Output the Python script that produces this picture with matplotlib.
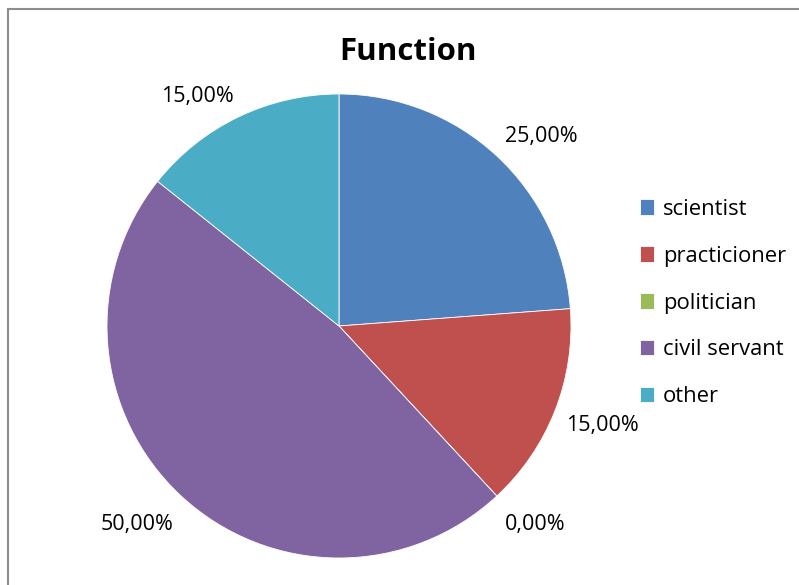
import numpy as np
import matplotlib.pyplot as plt
from matplotlib.patches import Rectangle

categories = ["scientist", "practicioner", "politician", "civil servant", "other"]
values = [25.0, 15.0, 0.0, 50.0, 15.0]
colors = ["#4F81BD", "#C0504D", "#9BBB59", "#8064A2", "#4BACC6"]
title = "Function"

plt.rcParams['font.family'] = ['Open Sans', 'DejaVu Sans']

fig = plt.figure(figsize=(7.99, 5.85), dpi=100)

# outer chart frame (only left and top edges fall inside the image)
fig.patches.append(Rectangle((8 / 799, -0.1), 1.2, (585 - 9) / 585 + 0.1,
                             transform=fig.transFigure, fill=False,
                             edgecolor="#8c8c8c", linewidth=1.5))

cx, cy, r = 339, 326, 232
ax = fig.add_axes([(cx - r) / 799, (585 - cy - r) / 585, 2 * r / 799, 2 * r / 585])

total = sum(values)


def fmt(p):
    v = p * total / 100
    return ("%.2f%%" % v).replace(".", ",")


wedges, texts, autotexts = ax.pie(values, colors=colors, startangle=90,
                                  counterclock=False, autopct=fmt,
                                  wedgeprops=dict(linewidth=0.6, edgecolor="white"),
                                  textprops=dict(fontsize=15.5, color="black"))
ax.set_xlim(-1, 1)
ax.set_ylim(-1, 1)
ax.set_aspect("equal")

# place value labels just outside the rim, Excel style
for w, t in zip(wedges, autotexts):
    a = np.deg2rad((w.theta1 + w.theta2) / 2)
    x, y = 1.05 * np.cos(a), 1.05 * np.sin(a)
    if y < -0.5:
        y -= 0.04
    t.set_position((x, y))
    t.set_ha("left" if x > 0 else "right")
    t.set_va("bottom" if y > 0 else "top")

fig.text(408 / 799, 1 - 52 / 585, title, ha="center", va="center",
         fontsize=22.5, fontweight="bold")

fig.legend(wedges, categories, loc="center left",
           bbox_to_anchor=(620 / 799, 1 - 303 / 585), frameon=False,
           fontsize=15.8, handlelength=0.65, handleheight=0.7,
           handletextpad=0.4, labelspacing=1.18)

fig.savefig("out.png", dpi=100)
